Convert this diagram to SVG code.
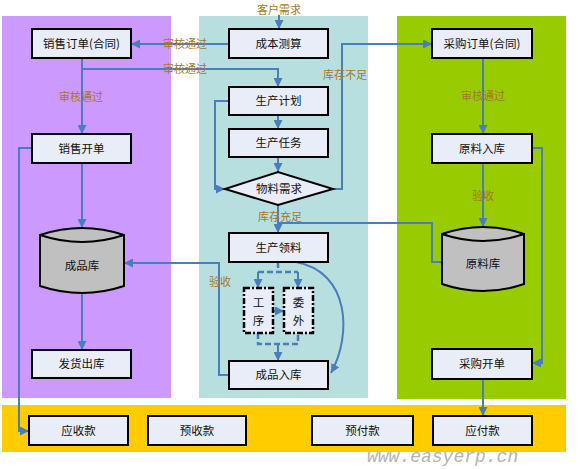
<svg xmlns="http://www.w3.org/2000/svg" width="580" height="469" viewBox="0 0 580 469">
<style>
.box{fill:#e8edf7;stroke:#000;stroke-width:2}
.dbox{fill:#e8edf7;stroke:#000;stroke-width:2.5;stroke-dasharray:6 2 2 2}
.cyl{fill:#c0c0c0;stroke:#000;stroke-width:2}
.t{font-family:"Noto Sans CJK SC","Noto Sans",sans-serif;font-size:11.5px;fill:#111;text-anchor:middle}
.lb{font-family:"Noto Sans CJK SC","Noto Sans",sans-serif;font-size:11px;fill:#a5782a;text-anchor:middle}
.c{fill:none;stroke:#4a7ebb;stroke-width:2}
.d{fill:none;stroke:#4a7ebb;stroke-width:2.5;stroke-dasharray:6 3}
</style>
<defs>
<marker id="ah" viewBox="0 0 10 10" refX="10" refY="5" markerWidth="9" markerHeight="9" markerUnits="userSpaceOnUse" orient="auto">
<path d="M0,0 L10,5 L0,10 z" fill="#4a7ebb"/>
</marker>
</defs>
<g id="lanes">
<rect x="2" y="16" width="169" height="382" fill="#cc99ff"/>
<rect x="199" y="16" width="169" height="382" fill="#b7dfe0"/>
<rect x="397" y="16" width="169" height="383" fill="#99cc00"/>
<rect x="2" y="405" width="564" height="47" fill="#ffcc00"/>
</g>
<g id="connectors">
<path class="c" d="M279,15 V29" marker-end="url(#ah)"/>
<path class="c" d="M229,44 H131" marker-end="url(#ah)"/>
<path class="c" d="M82,58 V134" marker-end="url(#ah)"/>
<path class="c" d="M82,69 H278 V87" marker-end="url(#ah)"/>
<path class="c" d="M278,115 V129" marker-end="url(#ah)"/>
<path class="c" d="M278,157 V172" marker-end="url(#ah)"/>
<path class="c" d="M229,101 H215 V189 H225" marker-end="url(#ah)"/>
<path class="c" d="M333,189 H342 V44 H432" marker-end="url(#ah)"/>
<path class="c" d="M278,205 V233" marker-end="url(#ah)"/>
<path class="c" d="M442,262 H432 V223 H278"/>
<path class="c" d="M483,58 V134" marker-end="url(#ah)"/>
<path class="c" d="M483,163 V227" marker-end="url(#ah)"/>
<path class="c" d="M532,148 H542 V363 H532" marker-end="url(#ah)"/>
<path class="c" d="M483,379 V416" marker-end="url(#ah)"/>
<path class="c" d="M32,148 H19 V431 H29" marker-end="url(#ah)"/>
<path class="c" d="M82,163 V228" marker-end="url(#ah)"/>
<path class="c" d="M82,293 V350" marker-end="url(#ah)"/>
<path class="c" d="M229,375 H219 V263 H124" marker-end="url(#ah)"/>
<path class="d" d="M278,262 V272 M258,272 H298"/>
<path class="c" d="M258,272 V288" marker-end="url(#ah)"/>
<path class="c" d="M298,272 V288" marker-end="url(#ah)"/>
<path class="c" d="M273,311 H284" marker-end="url(#ah)"/>
<path class="d" d="M258,333 V344 H298 V333"/>
<path class="c" d="M278,344 V361" marker-end="url(#ah)"/>
<path class="c" d="M296,262 C350,272 352,335 331,373" marker-end="url(#ah)"/>
</g>
<g id="labels">
<text class="lb" x="279" y="14">客户需求</text>
<text class="lb" x="185" y="48">审核通过</text>
<text class="lb" x="185" y="73">审核通过</text>
<text class="lb" x="81" y="101">审核通过</text>
<text class="lb" x="345" y="79">库存不足</text>
<text class="lb" x="280" y="221">库存充足</text>
<text class="lb" x="220" y="286">验收</text>
<text class="lb" x="483" y="100">审核通过</text>
<text class="lb" x="483" y="200">验收</text>
</g>
<g id="n-xsdd"><rect class="box" x="32" y="29" width="99" height="29"/><text class="t" x="81.5" y="48">销售订单(合同)</text></g>
<g id="n-xskd"><rect class="box" x="32" y="134" width="99" height="29"/><text class="t" x="81.5" y="153">销售开单</text></g>
<g id="n-cpk"><path class="cyl" d="M40,235 Q82,221 124,235 V286 Q82,300 40,286 Z"/><path class="cyl" d="M40,235 Q82,249 124,235"/><text class="t" x="82" y="270">成品库</text></g>
<g id="n-fhck"><rect class="box" x="32" y="350" width="99" height="28"/><text class="t" x="81.5" y="368">发货出库</text></g>
<g id="n-cbcs"><rect class="box" x="229" y="29" width="99" height="29"/><text class="t" x="278.5" y="48">成本测算</text></g>
<g id="n-scjh"><rect class="box" x="229" y="87" width="99" height="28"/><text class="t" x="278.5" y="105">生产计划</text></g>
<g id="n-scrw"><rect class="box" x="229" y="129" width="99" height="28"/><text class="t" x="278.5" y="147">生产任务</text></g>
<g id="n-wlxq"><polygon class="box" points="225,189 278,172 333,189 278,205"/><text class="t" x="279" y="193">物料需求</text></g>
<g id="n-scll"><rect class="box" x="229" y="233" width="99" height="29"/><text class="t" x="278.5" y="252">生产领料</text></g>
<g id="n-gx"><rect class="dbox" x="244" y="288" width="29" height="45"/><text class="t" x="258.5" y="307">工</text><text class="t" x="258.5" y="325">序</text></g>
<g id="n-ww"><rect class="dbox" x="284" y="288" width="29" height="45"/><text class="t" x="298.5" y="307">委</text><text class="t" x="298.5" y="325">外</text></g>
<g id="n-cprk"><rect class="box" x="229" y="361" width="99" height="28"/><text class="t" x="278.5" y="379">成品入库</text></g>
<g id="n-cgdd"><rect class="box" x="432" y="29" width="100" height="29"/><text class="t" x="482" y="48">采购订单(合同)</text></g>
<g id="n-ylrk"><rect class="box" x="432" y="134" width="100" height="29"/><text class="t" x="482" y="153">原料入库</text></g>
<g id="n-ylk"><path class="cyl" d="M442,234 Q483,220 524,234 V284 Q483,298 442,284 Z"/><path class="cyl" d="M442,234 Q483,248 524,234"/><text class="t" x="483" y="268">原料库</text></g>
<g id="n-cgkd"><rect class="box" x="432" y="349" width="100" height="30"/><text class="t" x="482" y="368">采购开单</text></g>
<g id="n-ysk"><rect class="box" x="29" y="416" width="99" height="29"/><text class="t" x="78.5" y="435">应收款</text></g>
<g id="n-yusk"><rect class="box" x="148" y="416" width="98" height="29"/><text class="t" x="197" y="435">预收款</text></g>
<g id="n-yfk"><rect class="box" x="312" y="416" width="101" height="29"/><text class="t" x="362.5" y="435">预付款</text></g>
<g id="n-yingfk"><rect class="box" x="433" y="416" width="99" height="29"/><text class="t" x="482.5" y="435">应付款</text></g>
<text x="367" y="462" font-family="Liberation Mono, monospace" font-style="italic" font-size="18" fill="#b4b4b4">www.easyerp.cn</text>
</svg>
